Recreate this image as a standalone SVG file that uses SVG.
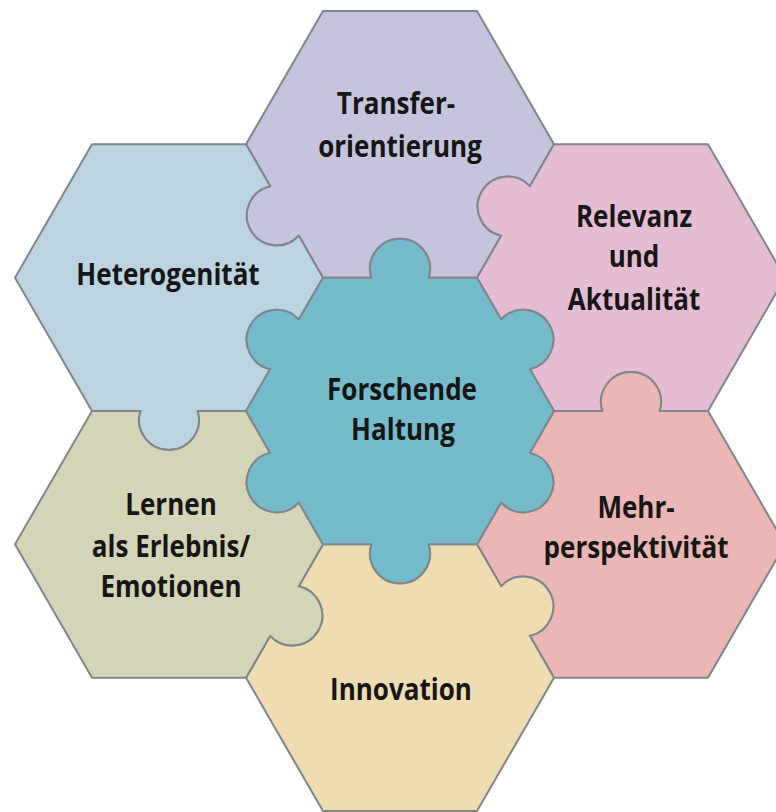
<svg xmlns="http://www.w3.org/2000/svg" width="776" height="812" viewBox="0 0 776 812">
  <style>
    .tile { stroke: #7f878c; stroke-width: 2; stroke-linejoin: round; }
    .label { font-family: "Open Sans", "Liberation Sans", sans-serif; font-weight: 700; font-size: 31px; fill: #161616; text-anchor: middle; }
    .c0 { fill: #74bbcc; }
    .top { fill: #c5c4dc; }
    .ul { fill: #bcd4e0; }
    .ur { fill: #e5bdd3; }
    .lr { fill: #ebb6b3; }
    .bot { fill: #efdcb1; }
    .ll { fill: #d4d4b7; }
  </style>
  <rect width="776" height="812" fill="#ffffff"/>

  <!-- Flat-top hexagon tiles, R=154, each path drawn around its own centre.
       Puzzle tabs: arc radius 30, chord half-width 28.62; sweep 1 = tab, sweep 0 = slot.
       Labels are narrowed horizontally with scale(0.84,1). -->

  <g id="node-transfer">
    <path class="tile top" transform="translate(400,144.26)"
      d="M -77,-133.37 L 77,-133.37 L 154,0
         L 129.81,41.895 A 30 30 0 1 0 101.19,91.475 L 77,133.37
         L 28.62,133.37 A 30 30 0 1 0 -28.62,133.37 L -77,133.37
         L -101.19,91.475 A 30 30 0 1 1 -129.81,41.895 L -154,0 Z"/>
    <text class="label" transform="translate(396,114) scale(0.84,1)">Transfer-</text>
    <text class="label" transform="translate(400,157) scale(0.84,1)">orientierung</text>
  </g>

  <g id="node-heterogenitaet">
    <path class="tile ul" transform="translate(169,277.63)"
      d="M -77,-133.37 L 77,-133.37
         L 101.19,-91.475 A 30 30 0 1 0 129.81,-41.895 L 154,0
         L 129.81,41.895 A 30 30 0 1 0 101.19,91.475 L 77,133.37
         L 28.62,133.37 A 30 30 0 1 1 -28.62,133.37 L -77,133.37
         L -154,0 Z"/>
    <text class="label" transform="translate(168,285) scale(0.84,1)">Heterogenität</text>
  </g>

  <g id="node-relevanz">
    <path class="tile ur" transform="translate(631,277.63)"
      d="M -77,-133.37 L 77,-133.37 L 154,0 L 77,133.37
         L 28.62,133.37 A 30 30 0 1 0 -28.62,133.37 L -77,133.37
         L -101.19,91.475 A 30 30 0 1 0 -129.81,41.895 L -154,0
         L -129.81,-41.895 A 30 30 0 1 1 -101.19,-91.475 Z"/>
    <text class="label" transform="translate(634,227) scale(0.84,1)">Relevanz</text>
    <text class="label" transform="translate(634,267) scale(0.84,1)">und</text>
    <text class="label" transform="translate(634,310) scale(0.84,1)">Aktualität</text>
  </g>

  <g id="node-mehrperspektivitaet">
    <path class="tile lr" transform="translate(631,544.37)"
      d="M -77,-133.37
         L -28.62,-133.37 A 30 30 0 1 1 28.62,-133.37 L 77,-133.37
         L 154,0 L 77,133.37 L -77,133.37
         L -101.19,91.475 A 30 30 0 1 0 -129.81,41.895 L -154,0
         L -129.81,-41.895 A 30 30 0 1 0 -101.19,-91.475 Z"/>
    <text class="label" transform="translate(636,518) scale(0.84,1)">Mehr-</text>
    <text class="label" transform="translate(636,558) scale(0.84,1)">perspektivität</text>
  </g>

  <g id="node-innovation">
    <path class="tile bot" transform="translate(400,677.74)"
      d="M -77,-133.37
         L -28.62,-133.37 A 30 30 0 1 0 28.62,-133.37 L 77,-133.37
         L 101.19,-91.475 A 30 30 0 1 1 129.81,-41.895 L 154,0
         L 77,133.37 L -77,133.37 L -154,0
         L -129.81,-41.895 A 30 30 0 1 0 -101.19,-91.475 Z"/>
    <text class="label" transform="translate(401,700) scale(0.84,1)">Innovation</text>
  </g>

  <g id="node-lernen">
    <path class="tile ll" transform="translate(169,544.37)"
      d="M -77,-133.37
         L -28.62,-133.37 A 30 30 0 1 0 28.62,-133.37 L 77,-133.37
         L 101.19,-91.475 A 30 30 0 1 0 129.81,-41.895 L 154,0
         L 129.81,41.895 A 30 30 0 1 1 101.19,91.475 L 77,133.37
         L -77,133.37 L -154,0 Z"/>
    <text class="label" transform="translate(171,515) scale(0.84,1)">Lernen</text>
    <text class="label" transform="translate(171,557) scale(0.84,1)">als Erlebnis/</text>
    <text class="label" transform="translate(171,597) scale(0.84,1)">Emotionen</text>
  </g>

  <!-- Centre tile: a tab on every side -->
  <g id="node-forschende-haltung">
    <path class="tile c0" transform="translate(400,411)"
      d="M -77,-133.37
         L -28.62,-133.37 A 30 30 0 1 1 28.62,-133.37 L 77,-133.37
         L 101.19,-91.475 A 30 30 0 1 1 129.81,-41.895 L 154,0
         L 129.81,41.895 A 30 30 0 1 1 101.19,91.475 L 77,133.37
         L 28.62,133.37 A 30 30 0 1 1 -28.62,133.37 L -77,133.37
         L -101.19,91.475 A 30 30 0 1 1 -129.81,41.895 L -154,0
         L -129.81,-41.895 A 30 30 0 1 1 -101.19,-91.475 Z"/>
    <text class="label" transform="translate(402,400) scale(0.84,1)">Forschende</text>
    <text class="label" transform="translate(403,440) scale(0.84,1)">Haltung</text>
  </g>

  <g id="connectors"/>
</svg>
